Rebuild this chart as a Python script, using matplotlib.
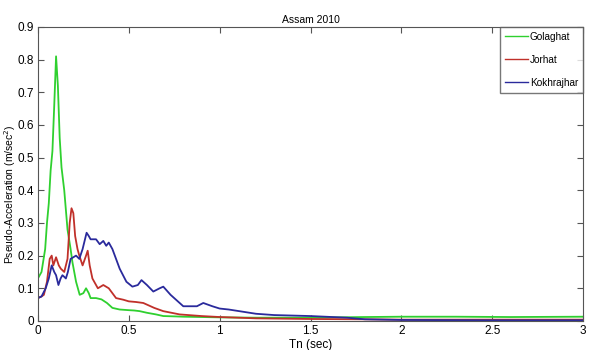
import matplotlib.pyplot as plt
import numpy as np

plt.rcParams['font.family'] = ['Liberation Sans', 'DejaVu Sans']

# Response spectra (Tn in sec, PSA in m/sec^2)
tn_golaghat = [0.0, 0.02, 0.04, 0.05, 0.06, 0.07, 0.08, 0.09, 0.10, 0.11, 0.12, 0.13, 0.145,
               0.163, 0.18, 0.19, 0.21, 0.23, 0.25, 0.265, 0.28, 0.29, 0.32, 0.35, 0.38, 0.41,
               0.45, 0.5, 0.53, 0.56, 0.6, 0.65, 0.69, 0.75, 0.8, 0.9, 1.0, 1.2, 1.5, 1.8,
               2.0, 2.3, 2.6, 3.0]
psa_golaghat = [0.13, 0.15, 0.22, 0.30, 0.36, 0.46, 0.52, 0.66, 0.81, 0.72, 0.56, 0.47, 0.40,
                0.28, 0.22, 0.18, 0.12, 0.08, 0.085, 0.10, 0.085, 0.07, 0.07, 0.066, 0.055, 0.04,
                0.035, 0.033, 0.032, 0.03, 0.025, 0.02, 0.015, 0.014, 0.013, 0.012, 0.011, 0.01, 0.01, 0.012,
                0.013, 0.013, 0.012, 0.013]

tn_jorhat = [0.0, 0.02, 0.033, 0.05, 0.065, 0.076, 0.085, 0.1, 0.115, 0.126, 0.145, 0.163,
             0.175, 0.185, 0.195, 0.205, 0.218, 0.228, 0.246, 0.265, 0.274, 0.285, 0.3, 0.33,
             0.36, 0.39, 0.41, 0.43, 0.47, 0.5, 0.54, 0.58, 0.64, 0.69, 0.78, 0.9, 1.0, 1.2,
             1.5, 1.8, 2.0, 2.5, 3.0]
psa_jorhat = [0.07, 0.075, 0.08, 0.12, 0.19, 0.20, 0.17, 0.195, 0.17, 0.16, 0.15, 0.19,
              0.30, 0.345, 0.33, 0.26, 0.22, 0.20, 0.17, 0.20, 0.215, 0.17, 0.13, 0.10,
              0.11, 0.10, 0.085, 0.07, 0.065, 0.06, 0.058, 0.055, 0.04, 0.03, 0.02, 0.015, 0.012, 0.008,
              0.006, 0.005, 0.004, 0.004, 0.004]

tn_kokhrajhar = [0.0, 0.02, 0.043, 0.06, 0.076, 0.09, 0.1, 0.113, 0.125, 0.135, 0.145, 0.154,
                 0.165, 0.18, 0.21, 0.228, 0.246, 0.268, 0.28, 0.29, 0.32, 0.34, 0.36, 0.376,
                 0.39, 0.41, 0.45, 0.487, 0.52, 0.55, 0.57, 0.6, 0.635, 0.67, 0.69, 0.73, 0.8,
                 0.875, 0.91, 0.96, 1.0, 1.05, 1.2, 1.3, 1.5, 1.7, 1.8, 2.0, 2.5, 3.0]
psa_kokhrajhar = [0.07, 0.075, 0.10, 0.13, 0.17, 0.15, 0.14, 0.11, 0.13, 0.14, 0.135, 0.13,
                  0.15, 0.19, 0.20, 0.19, 0.22, 0.27, 0.26, 0.25, 0.25, 0.235, 0.245, 0.23,
                  0.24, 0.22, 0.16, 0.12, 0.105, 0.11, 0.125, 0.11, 0.09, 0.10, 0.105, 0.08, 0.045,
                  0.045, 0.055, 0.045, 0.038, 0.035, 0.022, 0.018, 0.015, 0.01, 0.005, 0.003, 0.002, 0.002]

fig = plt.figure(figsize=(5.92, 3.5), dpi=100)
ax = fig.add_axes([0.064, 0.083, 0.921, 0.84])

ax.plot(tn_golaghat, psa_golaghat, color='#2fd02f', linewidth=1.3, label='Golaghat')
ax.plot(tn_jorhat, psa_jorhat, color='#c0302a', linewidth=1.3, label='Jorhat')
ax.plot(tn_kokhrajhar, psa_kokhrajhar, color='#2a2a9c', linewidth=1.3, label='Kokhrajhar')

ax.set_xlim(0, 3)
ax.set_ylim(0, 0.9)
ax.set_xticks(np.arange(0, 3.01, 0.5))
ax.set_xticklabels(['0', '0.5', '1', '1.5', '2', '2.5', '3'])
ax.set_yticks(np.arange(0, 0.91, 0.1))
ax.set_yticklabels(['0', '0.1', '0.2', '0.3', '0.4', '0.5', '0.6', '0.7', '0.8', '0.9'])
ax.tick_params(direction='in', top=True, right=True, labelsize=8.5, length=4,
               color='#555555', pad=3)
for s in ax.spines.values():
    s.set_color('#555555')

ax.set_title('Assam 2010', fontsize=7.5, pad=3)
ax.set_xlabel('Tn (sec)', fontsize=8.5, labelpad=1)
ax.set_ylabel('Pseudo-Acceleration (m/sec$^2$)', fontsize=7.5)
ax.yaxis.set_label_coords(-0.036, 0.43)

leg = ax.legend(loc='upper right', fontsize=7.2, fancybox=False, handlelength=2.3,
                handletextpad=0.2, borderaxespad=0, labelspacing=1.3, borderpad=0.5)
leg.get_frame().set_edgecolor('#555555')
for line in leg.get_lines():
    line.set_linewidth(1.0)

plt.savefig('out.png', dpi=100)
